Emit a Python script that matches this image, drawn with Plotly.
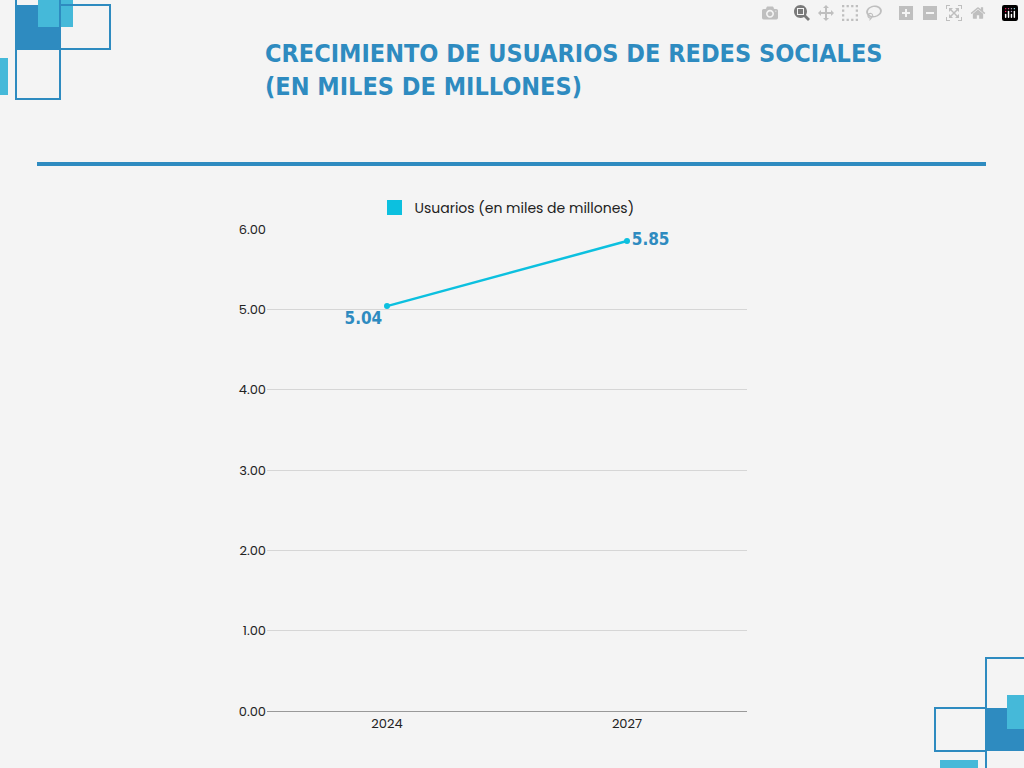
import plotly.graph_objects as go

years = ["2024", "2027"]
usuarios = [5.04, 5.85]
y_ticks = [0, 1, 2, 3, 4, 5, 6]

BLUE = "#2E8BC0"
LIGHT = "#45B9D9"
CYAN = "#0CC0DF"

# plot area in pixels
L, R, T, B = 267, 747, 229, 711


def px(x):
    return (x - L) / (R - L)


def py(y):
    return (B - y) / (B - T)


def rect(x0, y0, x1, y1, fill=None, line=None):
    return dict(type="rect", xref="paper", yref="paper",
                x0=px(x0), x1=px(x1), y0=py(y0), y1=py(y1),
                fillcolor=fill or "rgba(0,0,0,0)",
                line=dict(color=line or "rgba(0,0,0,0)", width=2 if line else 0),
                layer="above")


shapes = [
    rect(16, 5, 60, 49, fill=BLUE),
    rect(38, -5, 73, 27, fill=LIGHT),
    rect(16, -5, 60, 49, line=BLUE),
    rect(60, 5, 110, 49, line=BLUE),
    rect(16, 49, 60, 99, line=BLUE),
    rect(-5, 58, 8, 95, fill=LIGHT),
    rect(986, 708, 1030, 751, fill=BLUE),
    rect(1007, 695, 1030, 729, fill=LIGHT),
    rect(986, 658, 1030, 775, line=BLUE),
    rect(935, 708, 986, 751, line=BLUE),
    rect(940, 760, 978, 775, fill=LIGHT),
    dict(type="line", xref="paper", yref="paper", x0=px(37), x1=px(986),
         y0=py(164), y1=py(164), line=dict(color=BLUE, width=4)),
]

fig = go.Figure()
fig.add_trace(go.Scatter(
    x=years, y=usuarios, mode="lines+markers+text", showlegend=False,
    line=dict(color=CYAN, width=2.5), marker=dict(size=6, color=CYAN),
    text=[f"{v:.2f}" for v in usuarios],
    textposition=["bottom left", "middle right"],
    textfont=dict(family="DejaVu Sans Condensed", size=17, color=BLUE, weight="bold"),
))
# legend entry with square swatch
fig.add_trace(go.Scatter(
    x=[None], y=[None], mode="markers", name="Usuarios (en miles de millones)",
    marker=dict(symbol="square", size=15, color=CYAN),
))

fig.update_layout(
    width=1024, height=768,
    paper_bgcolor="#F4F4F4", plot_bgcolor="#F4F4F4",
    margin=dict(l=L, r=1024 - R, t=T, b=768 - B),
    font=dict(family="Poppins, Lato, sans-serif", size=13, color="#222"),
    showlegend=True,
    legend=dict(orientation="h", x=0.5, xanchor="center", y=py(208), yanchor="middle",
                font=dict(size=14), bgcolor="rgba(0,0,0,0)"),
    title=dict(text="CRECIMIENTO DE USUARIOS DE REDES SOCIALES<br>(EN MILES DE MILLONES)",
               x=265 / 1024, xanchor="left", y=1 - 62 / 768, yanchor="top",
               font=dict(family="DejaVu Sans Condensed", size=25,
                         color=BLUE, weight="bold")),
    xaxis=dict(type="category", showgrid=False, showline=True, linecolor="#999",
               ticks="", range=[-0.5, 1.5]),
    yaxis=dict(range=[0, 6], tickvals=y_ticks, tickformat=".2f", gridcolor="#D6D6D6",
               zeroline=False, ticks="", ticklen=8, tickcolor="rgba(0,0,0,0)"),
    shapes=shapes,
)

fig.write_html("out.html",
               post_script="document.body.style.margin='0';document.body.style.overflow='hidden';")
